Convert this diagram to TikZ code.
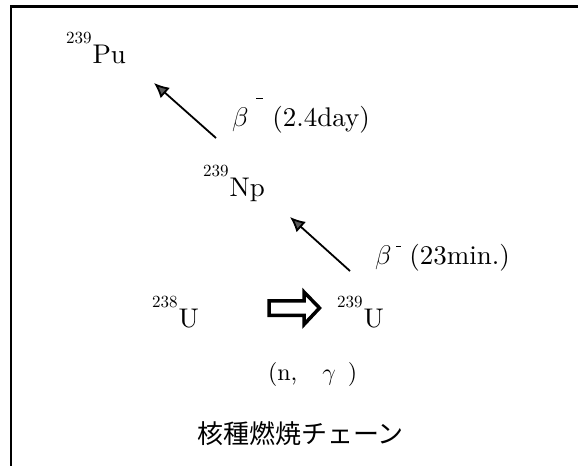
\RequirePackage{fix-cm}
\documentclass[tikz,border=0pt]{standalone}
\usepackage{fontspec}
\setmainfont{lmroman10-regular.otf}[ItalicFont=lmroman10-italic.otf,BoldFont=lmroman10-bold.otf]
\newfontfamily\jpfont{Noto Sans CJK JP}
\usetikzlibrary{arrows.meta}
\newcommand{\nuclide}[2]{\raisebox{20pt}{\fontsize{17}{17}\selectfont #1}\kern1pt #2}
\begin{document}
\begin{tikzpicture}[x=1pt,y=-1pt,
  lbl/.style={anchor=base west, inner sep=0pt, outer sep=0pt},
  nuc/.style={lbl, font=\fontsize{27}{27}\selectfont},
  betalbl/.style={lbl, font=\fontsize{27}{27}\selectfont},
  decay/.style={line width=1.8pt, -{Latex[length=15pt,width=14pt,fill=black!65]}},
  hollow/.style={line width=3.5pt, line join=miter, fill=white},
  frame/.style={line width=2.5pt}]
\useasboundingbox (0,0) rectangle (578,466);
\coordinate (ftl) at (11,6.5);
\coordinate (ftr) at (578,6.5);
\coordinate (fbl) at (11,466);
\draw[frame] (ftr) -- (ftl) -- (fbl);

\node[nuc] (pu) at (66,63) {\nuclide{239}{Pu}};
\node[nuc] (np) at (203,196) {\nuclide{239}{Np}};
\node[nuc] (u238) at (152,327) {\nuclide{238}{U}};
\node[nuc] (u239) at (337,327) {\nuclide{239}{U}};

\node[betalbl] (b1) at (232,126) {$\beta$\hspace{8pt}\rule[27pt]{7pt}{1.3pt}\hspace{9pt}(2.4day)};
\node[betalbl] (b2) at (375,264) {$\beta$\hspace{5pt}\rule[17pt]{5pt}{1.3pt}\hspace{8pt}(23min.)};

\node[lbl, font=\fontsize{24}{24}\selectfont] (ng) at (268,380) {(n,\hspace{25pt}$\gamma$\hspace{12pt})};
\node[lbl, font=\jpfont\fontsize{26}{26}\selectfont] (title) at (197,443) {核種燃焼チェーン};

\coordinate (a1s) at (216,138);
\coordinate (a1e) at (154,83);
\coordinate (a2s) at (350,271);
\coordinate (a2e) at (290,217);
\draw[decay] (a1s) -- (a1e);
\draw[decay] (a2s) -- (a2e);

\draw[hollow] (269,300.75) -- (304,300.75) -- (304,292) -- (319.5,308) -- (304,324.5) -- (304,315.25) -- (269,315.25) -- cycle;
\end{tikzpicture}
\end{document}
